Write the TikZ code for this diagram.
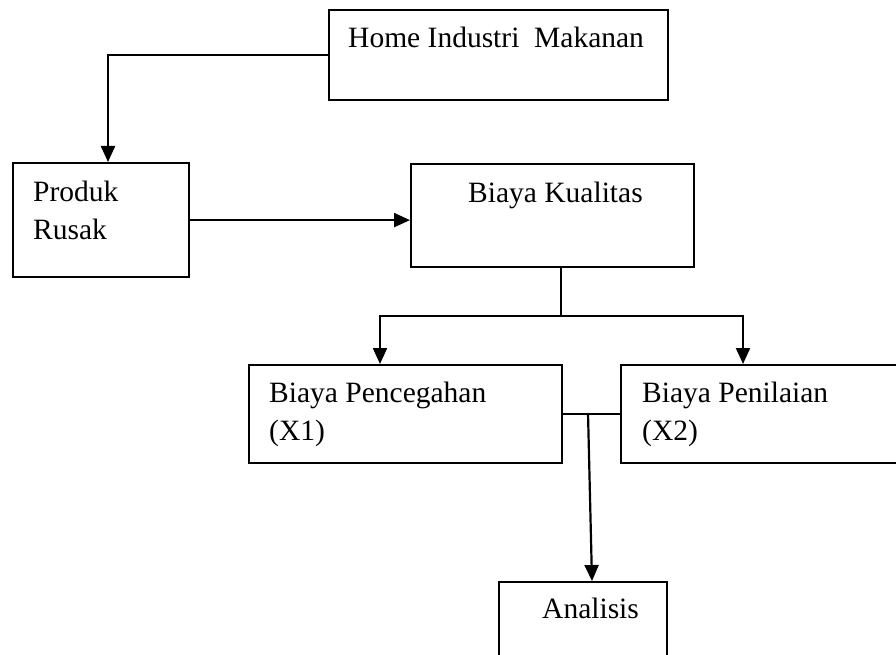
\documentclass[tikz,border=0pt]{standalone}
\usepackage{fontspec}
\setmainfont{Liberation Serif}
\usetikzlibrary{arrows.meta}
\begin{document}
\begin{tikzpicture}[x=1pt,y=-1pt,
  box/.style={draw=black,line width=2.2pt,rectangle,anchor=north west,inner sep=0pt},
  txt/.style={anchor=base west,inner sep=0pt,font=\fontsize{29.5}{35}\selectfont},
  conn/.style={line width=2.2pt},
  arr/.style={line width=2.2pt,-{Triangle[length=16pt,width=14pt]}}]
\useasboundingbox (0,0) rectangle (896,655);
% boxes
\node[box,minimum width=339pt,minimum height=90pt] (home) at (328,9) {};
\node[box,minimum width=176pt,minimum height=114pt] (produk) at (12,162) {};
\node[box,minimum width=283pt,minimum height=103pt] (kual) at (410,163) {};
\node[box,minimum width=313pt,minimum height=98pt] (cegah) at (248,364) {};
\node[box,minimum width=300pt,minimum height=98pt] (nilai) at (620,364) {};
\node[box,minimum width=168pt,minimum height=110pt] (anal) at (498,581) {};
% texts
\node[txt] (thome) at (348,48) {Home Industri\ \ Makanan};
\node[txt] (tprod1) at (33,201) {Produk};
\node[txt] (tprod2) at (33,239) {Rusak};
\node[txt] (tkual) at (468,202) {Biaya Kualitas};
\node[txt] (tceg1) at (269,402) {Biaya Pencegahan};
\node[txt] (tceg2) at (269,440) {(X1)};
\node[txt] (tnil1) at (642,402) {Biaya Penilaian};
\node[txt] (tnil2) at (642,440) {(X2)};
\node[txt] (tanal) at (542,618) {Analisis};
% connector points
\coordinate (p1) at (108,162);
\coordinate (ks) at (561,266);
\coordinate (bj) at (561,316);
\coordinate (c1) at (380,364);
\coordinate (n1) at (743,364);
\coordinate (j2) at (588,413);
\coordinate (a1) at (592,581);
% connectors
\draw[arr] (home.west) -| (p1);
\draw[arr] (produk.east) -- (produk.east -| kual.west);
\draw[conn] (ks) -- (bj);
\draw[arr] (bj) -| (c1);
\draw[arr] (bj) -| (n1);
\draw[conn] (cegah.east) -- (nilai.west);
\draw[arr] (j2) -- (a1);
\end{tikzpicture}
\end{document}
